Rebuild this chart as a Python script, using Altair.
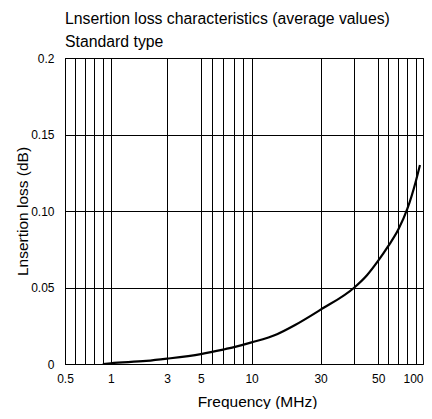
import altair as alt
import pandas as pd

# Curve
freq = [0.9, 1, 2, 3, 5, 7, 8, 10, 15, 20, 30, 40, 45, 50, 60, 70, 80, 90, 95.7]
loss = [0.0, 0.0005, 0.002, 0.0035, 0.0065, 0.0094, 0.011, 0.0141, 0.0195, 0.0255,
        0.0355, 0.05, 0.058, 0.0675, 0.077, 0.088, 0.1015, 0.119, 0.13]

# Frequency grid of the (hand-drawn, irregular) log axis
x_grid = [0.5, 0.6, 0.7, 0.8, 0.9, 1, 3, 5, 6, 7, 8, 9, 10, 30, 40, 50, 60, 70, 80, 90, 100]
x_grid_pos = [0, 10, 20, 29, 38, 46, 102.6, 136.6, 148.3, 159, 170, 179.3, 187.6,
              257, 291, 315, 325, 335.3, 344.3, 352.6, 360]
x_labels = [0.5, 1, 3, 5, 10, 30, 50, 100]
y_ticks = [0, 0.05, 0.1, 0.15, 0.2]

title_lines = ["Lnsertion loss characteristics (average values)", "Standard type"]
x_title = "Frequency (MHz)"
y_title = "Lnsertion loss (dB)"

FONT = "Liberation Sans"
W = 358
x_range = [p * W / 360 for p in x_grid_pos]

df = pd.DataFrame({"freq": freq, "loss": loss})

label_list = "[" + ",".join(str(v) for v in x_labels) + "]"
x_label_expr = f"indexof({label_list}, datum.value) >= 0 ? '' + datum.value : ''"

chart = alt.Chart(df).mark_line(
    color="black", strokeWidth=2.2, interpolate="monotone"
).encode(
    x=alt.X(
        "freq:Q",
        scale=alt.Scale(type="log", domain=x_grid, range=x_range, nice=False),
        axis=alt.Axis(
            values=x_grid, grid=True, ticks=False, labelExpr=x_label_expr,
            labelFontSize=12, labelPadding=14, labelBaseline="middle",
            labelAlign={"condition": {"test": "datum.value == 100", "value": "right"},
                        "value": "center"},
            labelFlush=False, labelOverlap=False,
            title=x_title, titleFontSize=15.5, titleFontWeight="normal",
            titleX=192, titleY=37, titleBaseline="middle", titleAlign="center",
        ),
    ),
    y=alt.Y(
        "loss:Q",
        scale=alt.Scale(domain=[0, 0.2], nice=False),
        axis=alt.Axis(
            values=y_ticks, grid=True, ticks=False,
            labelExpr="datum.value == 0.1 ? '0.10' : '' + datum.value",
            labelFontSize=12, labelPadding=11,
            title=y_title, titleFontSize=15.5, titleFontWeight="normal",
            titleX=-43, titleY=153, titleAngle=270, titleBaseline="middle",
            titleAlign="center",
        ),
    ),
).properties(
    width=W,
    height=306,
    title=alt.TitleParams(
        text=title_lines, anchor="start", frame="group", fontSize=15.8,
        fontWeight="normal", lineHeight=23.3, offset=1, font=FONT, color="black",
    ),
    autosize=alt.AutoSizeParams(type="none"),
    padding={"left": 57, "top": 50, "right": 1, "bottom": 45},
).configure_view(
    stroke="black", strokeWidth=1
).configure_axis(
    gridColor="black", gridOpacity=1, gridWidth=1,
    domainColor="black", domainWidth=1,
    labelColor="black", titleColor="black",
    labelFont=FONT, titleFont=FONT,
)

chart.save("out.html", embed_options={"renderer": "svg", "actions": False})
